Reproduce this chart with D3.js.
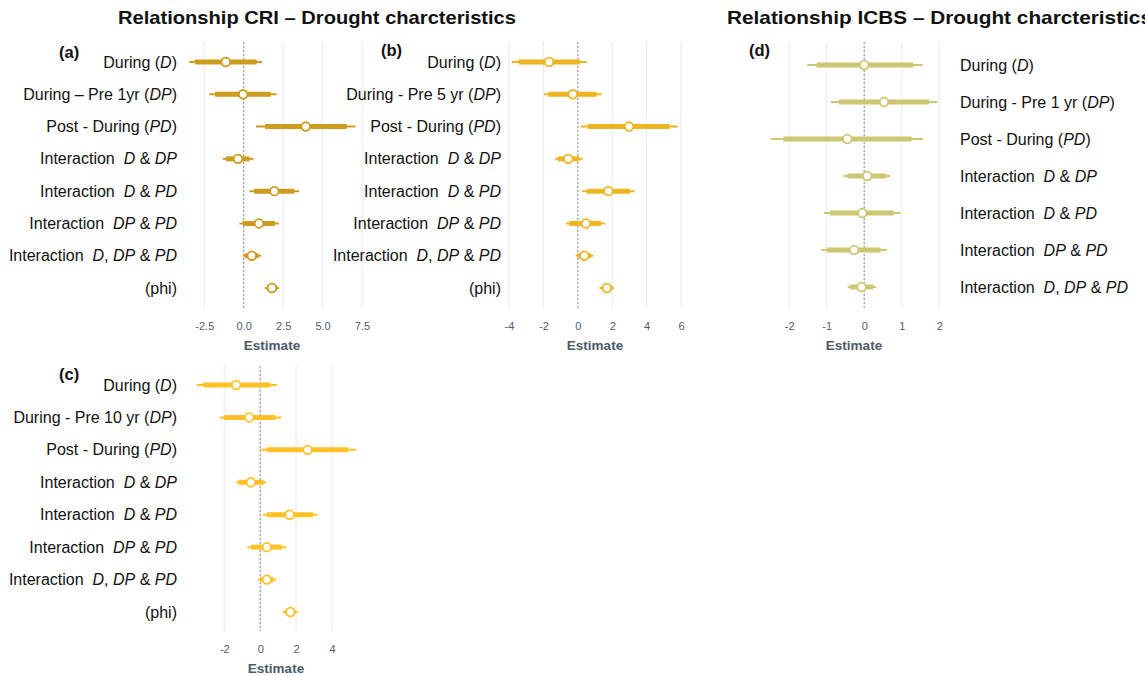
<!DOCTYPE html>
<html>
<head>
<meta charset="utf-8">
<script src="https://cdn.jsdelivr.net/npm/d3@7"></script>
<style>
  body { margin: 0; background: #fff; font-family: "Liberation Sans", Arial, sans-serif; }
  svg text { font-family: "Liberation Sans", Arial, sans-serif; }
</style>
</head>
<body>
<svg id="chart" width="1145" height="676"></svg>
<script>
// row labels (<i> marks the italic parts)
const termsA = ["During (<i>D</i>)", "During \u2013 Pre 1yr (<i>DP</i>)", "Post - During (<i>PD</i>)",
  "Interaction  <i>D</i> & <i>DP</i>", "Interaction  <i>D</i> & <i>PD</i>", "Interaction  <i>DP</i> & <i>PD</i>",
  "Interaction  <i>D</i>, <i>DP</i> & <i>PD</i>", "(phi)"];
const termsB = ["During (<i>D</i>)", "During - Pre 5 yr (<i>DP</i>)", "Post - During (<i>PD</i>)",
  "Interaction  <i>D</i> & <i>DP</i>", "Interaction  <i>D</i> & <i>PD</i>", "Interaction  <i>DP</i> & <i>PD</i>",
  "Interaction  <i>D</i>, <i>DP</i> & <i>PD</i>", "(phi)"];
const termsC = ["During (<i>D</i>)", "During - Pre 10 yr (<i>DP</i>)", "Post - During (<i>PD</i>)",
  "Interaction  <i>D</i> & <i>DP</i>", "Interaction  <i>D</i> & <i>PD</i>", "Interaction  <i>DP</i> & <i>PD</i>",
  "Interaction  <i>D</i>, <i>DP</i> & <i>PD</i>", "(phi)"];
const termsD = ["During (<i>D</i>)", "During - Pre 1 yr (<i>DP</i>)", "Post - During (<i>PD</i>)",
  "Interaction  <i>D</i> & <i>DP</i>", "Interaction  <i>D</i> & <i>PD</i>", "Interaction  <i>DP</i> & <i>PD</i>",
  "Interaction  <i>D</i>, <i>DP</i> & <i>PD</i>"];

// (a) CRI, 1 yr
const estA = [-1.14, -0.04, 3.93, -0.36, 1.94, 0.97, 0.51, 1.79];
const innerA = [[-3.09, 0.82], [-1.82, 1.71], [1.35, 6.53], [-1.12, 0.36], [0.65, 3.21], [-0.06, 1.98], [0.08, 0.93], [1.5, 2.09]];
const outerA = [[-3.45, 1.16], [-2.18, 2.09], [0.78, 7.08], [-1.33, 0.61], [0.36, 3.51], [-0.28, 2.22], [-0.06, 1.1], [1.35, 2.24]];
// (b) CRI, 5 yr
const estB = [-1.67, -0.29, 2.98, -0.55, 1.78, 0.47, 0.38, 1.69];
const innerB = [[-3.45, 0.13], [-1.71, 1.1], [0.58, 5.33], [-1.16, 0.09], [0.52, 3.04], [-0.49, 1.34], [0, 0.77], [1.4, 1.98]];
const outerB = [[-3.84, 0.52], [-1.96, 1.39], [0.17, 5.81], [-1.32, 0.27], [0.25, 3.31], [-0.68, 1.59], [-0.12, 0.91], [1.26, 2.11]];
// (c) CRI, 10 yr
const estC = [-1.34, -0.61, 2.64, -0.52, 1.64, 0.37, 0.37, 1.68];
const innerC = [[-3.17, 0.56], [-2.01, 0.84], [0.37, 4.9], [-1.21, 0.19], [0.37, 2.94], [-0.52, 1.21], [0, 0.74], [1.4, 1.96]];
const outerC = [[-3.54, 0.93], [-2.27, 1.16], [-0.04, 5.35], [-1.34, 0.32], [0.15, 3.2], [-0.71, 1.45], [-0.13, 0.89], [1.27, 2.08]];
// (d) ICBS
const estD = [0.0, 0.53, -0.45, 0.08, -0.05, -0.27, -0.07];
const innerD = [[-1.27, 1.31], [-0.67, 1.73], [-2.16, 1.26], [-0.45, 0.58], [-0.91, 0.79], [-1.0, 0.44], [-0.38, 0.24]];
const outerD = [[-1.52, 1.56], [-0.89, 1.95], [-2.49, 1.57], [-0.56, 0.69], [-1.07, 0.97], [-1.14, 0.6], [-0.44, 0.31]];

const ticksA = [-2.5, 0, 2.5, 5, 7.5];
const ticksB = [-4, -2, 0, 2, 4, 6];
const ticksC = [-2, 0, 2, 4];
const ticksD = [-2, -1, 0, 1, 2];

const svg = d3.select('#chart');

function addLabel(textSel, str) {
    // split on <i>..</i> into tspans
    str.split(/(<i>.*?<\/i>)/).filter(s => s.length).forEach(part => {
        const it = part.startsWith('<i>');
        textSel.append('tspan')
            .attr('font-style', it ? 'italic' : 'normal')
            .text(it ? part.slice(3, -4) : part);
    });
}

function drawPanel(p) {
    const x = d3.scaleLinear().domain(p.domain).range(p.range);
    const y = d3.scalePoint().domain(d3.range(p.terms.length)).range(p.rows);
    const g = svg.append('g');

    // vertical grid
    g.selectAll('.grid').data(p.ticks).enter().append('line')
        .attr('x1', d => x(d)).attr('x2', d => x(d))
        .attr('y1', p.gridTop).attr('y2', p.gridBottom)
        .attr('stroke', '#ebebeb').attr('stroke-width', 1.1);

    // zero line
    g.append('line')
        .attr('x1', x(0)).attr('x2', x(0))
        .attr('y1', p.gridTop).attr('y2', p.gridBottom)
        .attr('stroke', '#8c8c8c').attr('stroke-width', 1)
        .attr('stroke-dasharray', '2,2');

    // axis labels
    const ax = g.append('g')
        .attr('transform', `translate(0,${p.gridBottom + 9})`)
        .call(d3.axisBottom(x).tickValues(p.ticks).tickSize(0).tickPadding(5)
            .tickFormat(p.fmt));
    ax.select('.domain').remove();
    ax.selectAll('text').attr('fill', '#4d5d6e').attr('font-size', 11)
        .style('font-family', '"Liberation Sans", Arial, sans-serif');

    g.append('text')
        .attr('x', p.estX).attr('y', p.gridBottom + 42)
        .attr('text-anchor', 'middle')
        .attr('font-size', 13.5).attr('font-weight', 'bold').attr('fill', '#4a5a6a')
        .text('Estimate');

    // intervals
    const idx = d3.range(p.terms.length);
    g.selectAll('.outer').data(idx).enter().append('line')
        .attr('x1', i => x(p.outer[i][0])).attr('x2', i => x(p.outer[i][1]))
        .attr('y1', i => y(i)).attr('y2', i => y(i))
        .attr('stroke', p.color).attr('stroke-width', 2);
    g.selectAll('.inner').data(idx).enter().append('line')
        .attr('x1', i => x(p.inner[i][0])).attr('x2', i => x(p.inner[i][1]))
        .attr('y1', i => y(i)).attr('y2', i => y(i))
        .attr('stroke', p.color).attr('stroke-width', 5);
    g.selectAll('.pt').data(idx).enter().append('circle')
        .attr('cx', i => x(p.est[i])).attr('cy', i => y(i))
        .attr('r', 4.3)
        .attr('fill', '#fff').attr('stroke', p.color).attr('stroke-width', 1.8);

    // row labels
    idx.forEach(i => {
        const t = g.append('text')
            .attr('x', p.labelX).attr('y', y(i) + 5.5)
            .attr('text-anchor', p.labelAnchor)
            .attr('font-size', 16).attr('fill', '#111')
            .attr('xml:space', 'preserve')
            .style('white-space', 'pre');
        addLabel(t, p.terms[i]);
    });

    svg.append('text')
        .attr('x', p.tagX).attr('y', p.tagY)
        .attr('font-size', 16.5).attr('font-weight', 'bold').attr('fill', '#111')
        .text(p.tag);
}

const plain = d => String(d);
const oneDec = d => d.toFixed(1);

drawPanel({ terms: termsA, est: estA, inner: innerA, outer: outerA, ticks: ticksA,
    domain: [-2.5, 7.5], range: [204.3, 362], rows: [62, 288], gridTop: 42, gridBottom: 308,
    fmt: oneDec, color: '#CD9B1D', labelX: 177, labelAnchor: 'end',
    estX: 272, tag: '(a)', tagX: 59, tagY: 58 });
drawPanel({ terms: termsB, est: estB, inner: innerB, outer: outerB, ticks: ticksB,
    domain: [-4, 6], range: [509, 681], rows: [62, 288], gridTop: 42, gridBottom: 308,
    fmt: plain, color: '#EEB422', labelX: 501, labelAnchor: 'end',
    estX: 595, tag: '(b)', tagX: 381, tagY: 56 });
drawPanel({ terms: termsC, est: estC, inner: innerC, outer: outerC, ticks: ticksC,
    domain: [-2, 4], range: [224.3, 332], rows: [385, 612], gridTop: 366, gridBottom: 631,
    fmt: plain, color: '#FFC125', labelX: 177, labelAnchor: 'end',
    estX: 276, tag: '(c)', tagX: 59, tagY: 380 });
drawPanel({ terms: termsD, est: estD, inner: innerD, outer: outerD, ticks: ticksD,
    domain: [-2, 2], range: [789.2, 939.2], rows: [65, 287], gridTop: 42, gridBottom: 308,
    fmt: plain, color: '#CDC673', labelX: 960, labelAnchor: 'start',
    estX: 854, tag: '(d)', tagX: 749, tagY: 56 });

svg.append('text')
    .attr('x', 118).attr('y', 24)
    .attr('font-size', 18.5).attr('font-weight', 'bold').attr('fill', '#111')
    .attr('textLength', 398).attr('lengthAdjust', 'spacingAndGlyphs')
    .text('Relationship CRI \u2013 Drought charcteristics');
svg.append('text')
    .attr('x', 727).attr('y', 24)
    .attr('font-size', 18.5).attr('font-weight', 'bold').attr('fill', '#111')
    .attr('textLength', 425).attr('lengthAdjust', 'spacingAndGlyphs')
    .text('Relationship ICBS \u2013 Drought charcteristics');
</script>
</body>
</html>
